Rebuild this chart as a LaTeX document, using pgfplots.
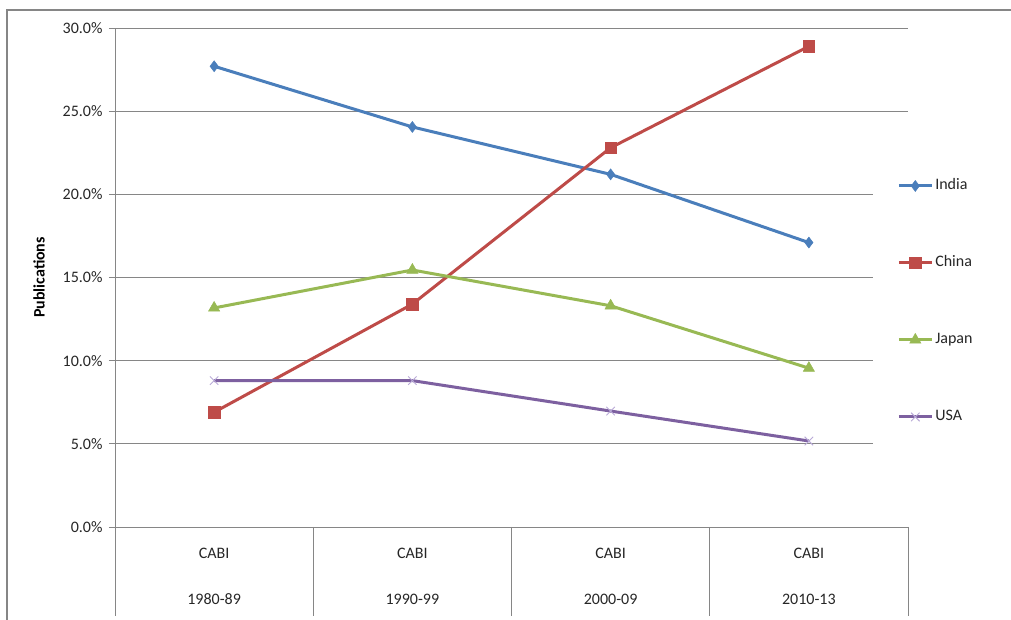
\documentclass[border=0pt]{standalone}
\usepackage{fontspec}
\setmainfont{Carlito}
\usepackage{pgfplots}
\pgfplotsset{compat=1.18}
\definecolor{cIndia}{RGB}{74,126,187}
\definecolor{cChina}{RGB}{190,75,72}
\definecolor{cJapan}{RGB}{152,185,84}
\definecolor{cUSA}{RGB}{125,96,160}
\definecolor{cUSAm}{RGB}{185,170,215}
\definecolor{gridc}{RGB}{134,134,134}
\begin{document}
\begin{tikzpicture}[x=1pt,y=1pt]
\useasboundingbox (0,0) rectangle (1011,620);
\draw[gridc, line width=1.3pt] (7,-10) -- (7,610) -- (1040,610);
\begin{axis}[
  at={(115pt,93pt)}, anchor=south west,
  scale only axis, width=793pt, height=499pt,
  xmin=-0.5, xmax=3.5, ymin=0, ymax=30,
  axis x line=bottom, axis y line=left,
  axis line style={draw=gridc, line width=0.8pt, -},
  clip=false,
  font=\fontsize{16}{19}\selectfont,
  /pgf/number format/assume math mode=true,
  ytick={0,5,...,30},
  yticklabel={\pgfmathprintnumber[fixed,fixed zerofill,precision=1]{\tick}\%},
  ymajorgrids, grid style={draw=gridc, line width=0.8pt},
  major tick length=6pt, tick align=outside,
  ytick style={draw=gridc, line width=0.8pt},
  xtick={0,1,2,3},
  xtick style={draw=none},
  xticklabels={{CABI\\[27pt]1980-89},{CABI\\[27pt]1990-99},{CABI\\[27pt]2000-09},{CABI\\[27pt]2010-13}},
  xticklabel style={align=center, yshift=-12pt, text=black!85},
  yticklabel style={text=black!85, xshift=-3pt},
  ylabel={\textbf{Publications}},
  ylabel style={at={(axis description cs:-0.0958,0.5)}, anchor=center},
  legend image code/.code={\draw[mark repeat=2,mark phase=2] plot coordinates {(0pt,0pt) (16.5pt,0pt) (33pt,0pt)};},
  legend style={at={(0.956,0.452)}, anchor=west, fill=white, draw=none,
    inner xsep=24pt, inner ysep=30pt, row sep=63pt,
    font=\fontsize{16}{19}\selectfont, text=black!85,
    nodes={inner xsep=2pt, inner ysep=0pt, text height=11pt, text depth=3pt}},
  legend cell align=left,
]
\pgfplotsinvokeforeach{-0.5,0.5,1.5,2.5,3.5}{
  \draw[gridc, line width=0.8pt] (axis cs:#1,0) -- ++(0pt,-89pt);
}
\addplot[cIndia, line width=3pt, mark=diamond*, mark size=5.5pt, mark options={solid, line width=0.5pt}]
  coordinates {(0,27.7) (1,24.05) (2,21.2) (3,17.1)};
\addlegendentry{India}
\addplot[cChina, line width=3pt, mark=square*, mark size=5.8pt, mark options={solid, line width=0.5pt}]
  coordinates {(0,6.9) (1,13.4) (2,22.8) (3,28.9)};
\addlegendentry{China}
\addplot[cJapan, line width=3pt, mark=triangle*, mark size=6.5pt, mark options={solid, line width=0.5pt}]
  coordinates {(0,13.17) (1,15.45) (2,13.3) (3,9.55)};
\addlegendentry{Japan}
\addplot[cUSA, line width=3pt, mark=x, mark size=6pt, mark options={solid, draw=cUSAm, line width=0.9pt}]
  coordinates {(0,8.8) (1,8.8) (2,6.97) (3,5.17)};
\addlegendentry{USA}
\end{axis}
\end{tikzpicture}
\end{document}
